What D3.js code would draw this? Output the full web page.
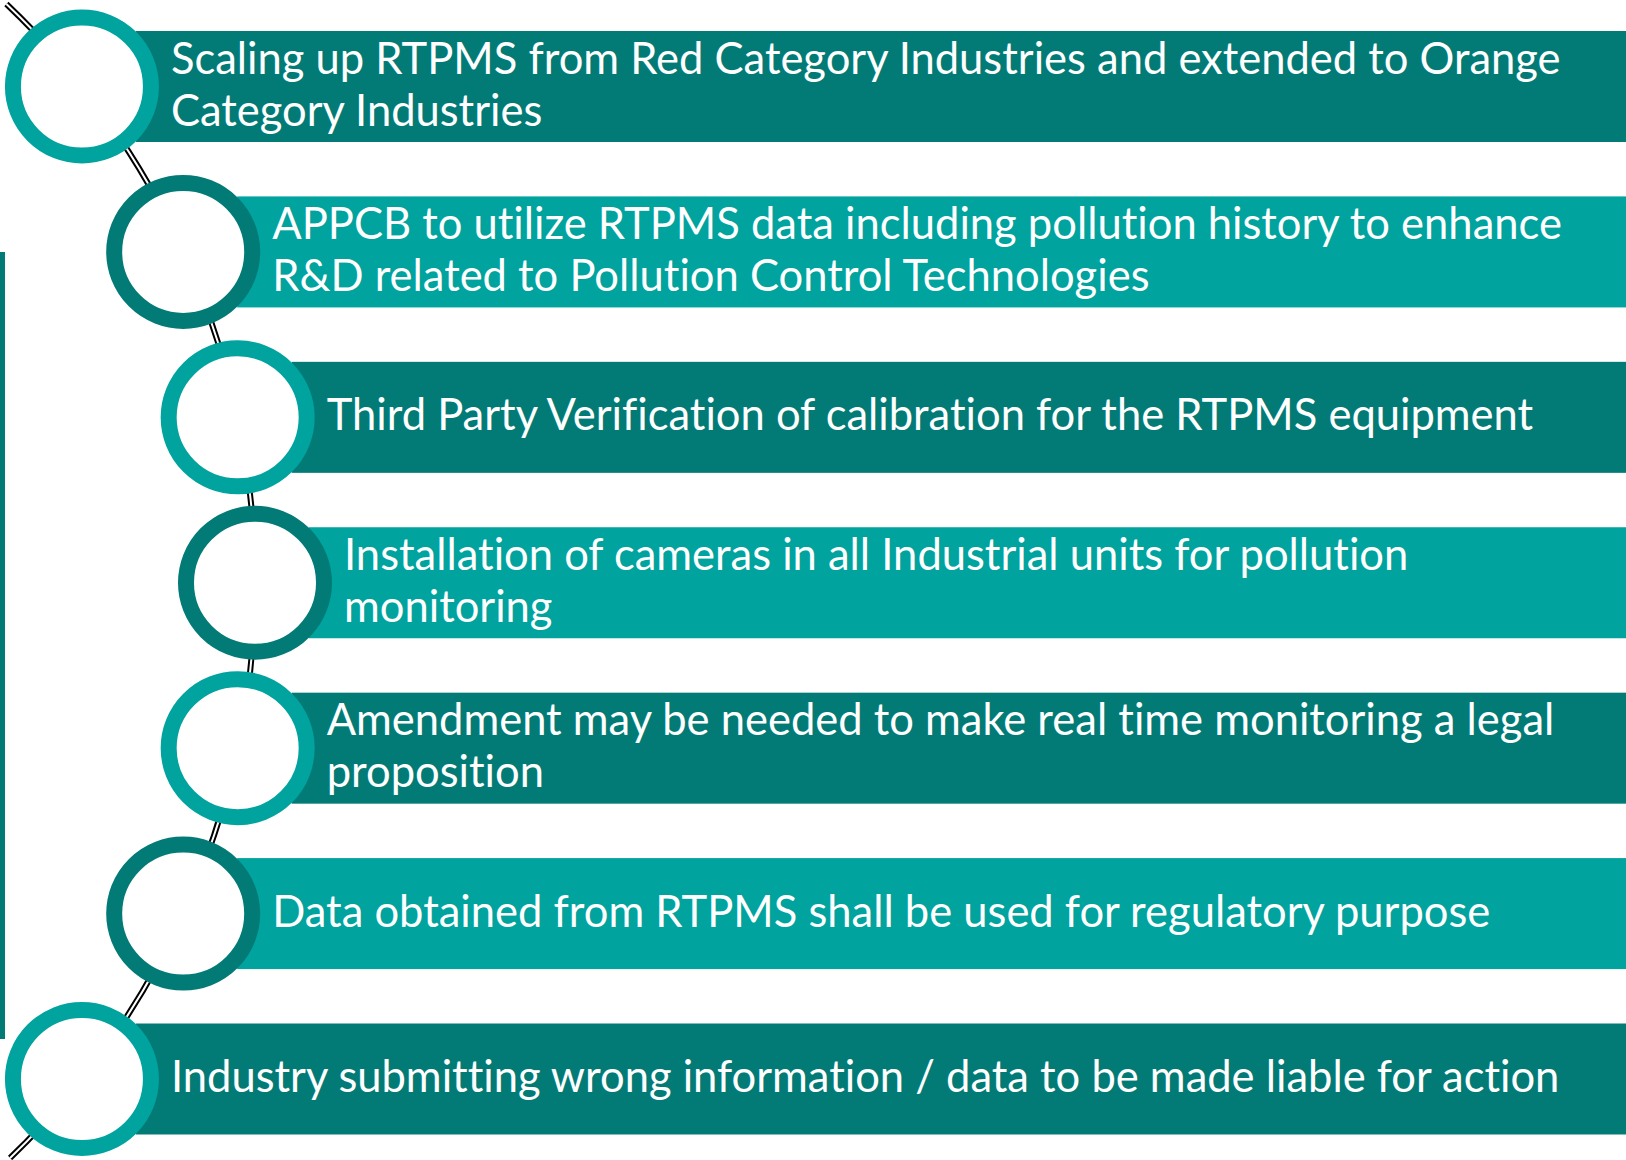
<!DOCTYPE html>
<html><head><meta charset="utf-8">
<script src="https://cdn.jsdelivr.net/npm/d3@7"></script>
<style>body{margin:0;background:#fff;overflow:hidden} text{font-variant-ligatures:none;font-feature-settings:"liga" 0,"clig" 0}</style>
</head><body>
<svg id="c" width="1626" height="1160"></svg>
<script>
// ---- data ----
const steps = [
  ["Scaling up RTPMS from Red Category Industries and extended to Orange", "Category Industries"],
  ["APPCB to utilize RTPMS data including pollution history to enhance", "R&D related to Pollution Control Technologies"],
  ["Third Party Verification of calibration for the RTPMS equipment"],
  ["Installation of cameras in all Industrial units for pollution", "monitoring"],
  ["Amendment may be needed to make real time monitoring a legal", "proposition"],
  ["Data obtained from RTPMS shall be used for regulatory purpose"],
  ["Industry submitting wrong information / data to be made liable for action"]
];
const tones = ["dark", "light", "dark", "light", "dark", "light", "dark"];

// ---- style ----
const W = 1626, H = 1160;
const colors = {dark: "#027b77", light: "#00a39e"};
const ringColor = {dark: colors.light, light: colors.dark};
const svg = d3.select("#c");

const y = d3.scaleLinear().domain([0, steps.length - 1]).range([86.5, 1079]);
const barH = 111;
// arc geometry through circle centres
const arcC = {x: -543, y: 582.75}, R = 798;
const arcX = yy => arcC.x + Math.sqrt(R * R - (yy - arcC.y) ** 2);

// left accent bar
svg.append("rect").attr("x", 0).attr("y", 252).attr("width", 5).attr("height", 787).attr("fill", colors.dark);

// connector arc (double line)
const a0 = Math.asin((4 - arcC.y) / R), a1 = Math.asin((1158 - arcC.y) / R);
const p = d3.path(); p.arc(arcC.x, arcC.y, R, a0, a1);
svg.append("path").attr("d", p.toString()).attr("fill", "none").attr("stroke", "#000").attr("stroke-width", 6);
svg.append("path").attr("d", p.toString()).attr("fill", "none").attr("stroke", "#fff").attr("stroke-width", 2);

const g = svg.selectAll("g.step").data(steps).join("g").attr("class", "step");

g.append("rect")
  .attr("x", (d, i) => arcX(y(i)) + 54)
  .attr("y", (d, i) => y(i) - barH / 2)
  .attr("width", (d, i) => W - arcX(y(i)) - 54)
  .attr("height", barH)
  .attr("fill", (d, i) => colors[tones[i]]);

g.append("circle")
  .attr("cx", (d, i) => arcX(y(i)))
  .attr("cy", (d, i) => y(i))
  .attr("r", 69)
  .attr("fill", "#fff")
  .attr("stroke", (d, i) => ringColor[tones[i]])
  .attr("stroke-width", 16);

// font sizing to match reference line width
const probe = svg.append("text").attr("font-family", "Lato").attr("font-size", 40).text(steps[0][0]);
const fs = 40 * 1390 / probe.node().getComputedTextLength();
probe.remove();

g.each(function (d, i) {
  const c = y(i);
  const base = d.length === 1 ? [c + 13] : [c - 13, c + 39];
  const t = d3.select(this).append("text")
    .attr("font-family", "Lato").attr("font-size", fs).attr("fill", "#fff");
  d.forEach((line, k) => {
    t.append("tspan").attr("x", arcX(c) + 89).attr("y", base[k]).text(line);
  });
});
</script>
</body></html>
